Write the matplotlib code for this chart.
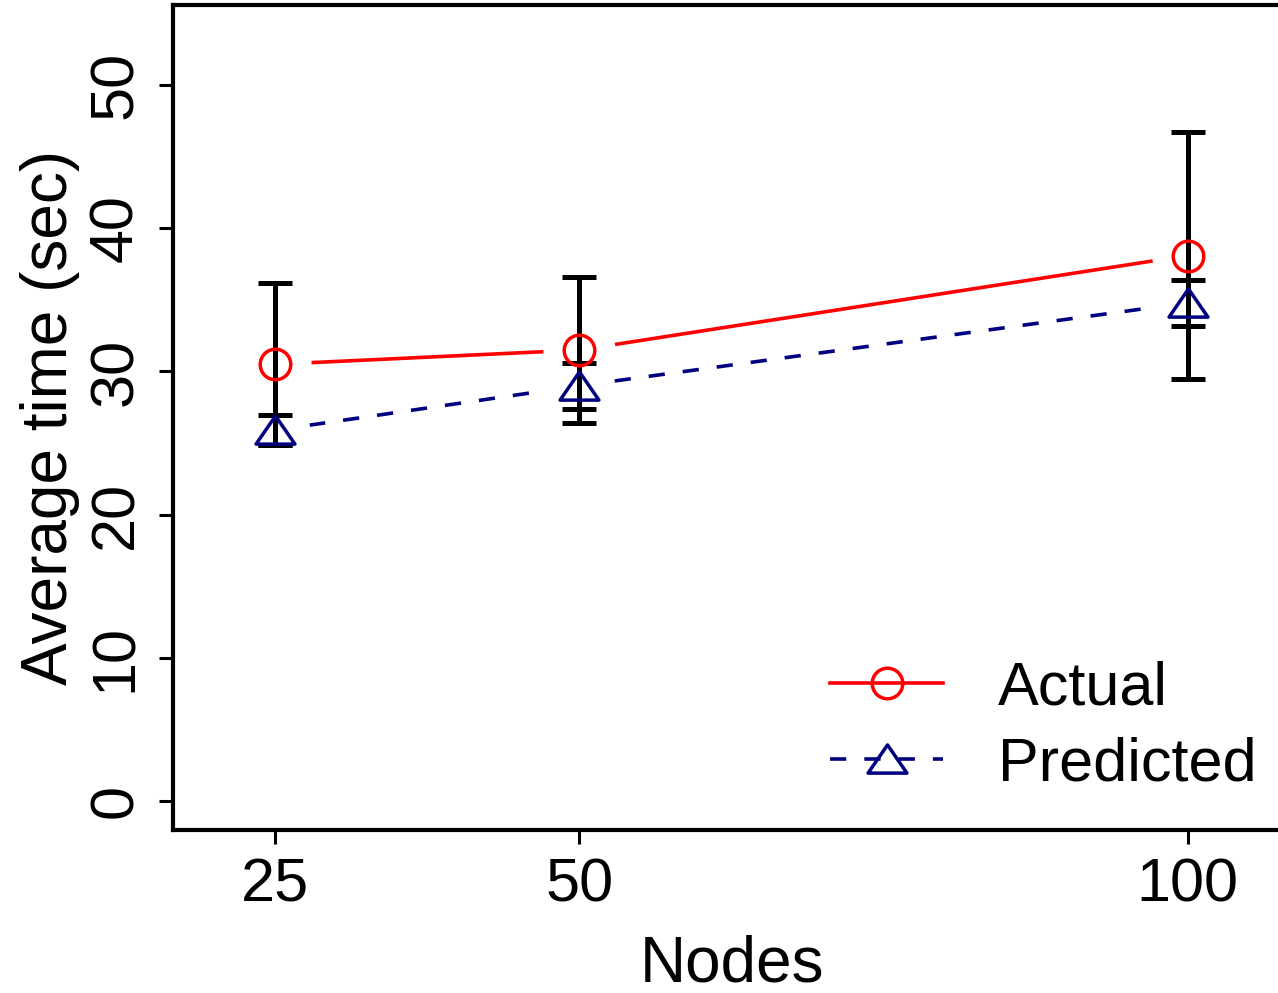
import matplotlib
matplotlib.use('Agg')
import matplotlib.pyplot as plt
from matplotlib.path import Path

plt.rcParams['font.family'] = ['Liberation Sans', 'DejaVu Sans']

nodes = [25, 50, 100]
actual = [30.5, 31.5, 38.1]
actual_err = [5.65, 5.1, 8.6]
predicted = [25.9, 29.0, 34.8]
predicted_err = [1.05, 1.6, 1.6]

fig = plt.figure(figsize=(12.78, 9.93), dpi=100)
ax = fig.add_axes([173/1278, 1-830/993, (1291-173)/1278, (830-5)/993])

# open triangle like R pch=2
tri = Path([(-1, -0.7), (1, -0.7), (0, 0.75), (-1, -0.7)], closed=True)

# lines with gaps around the points (like R type="b")
ax.plot(nodes, actual, color='red', lw=2.6, zorder=1)
ax.plot(nodes, predicted, color='#000080', lw=2.6, ls=(0, (4.5, 5)), zorder=1)
ax.plot(nodes, actual, ls='none', marker='o', ms=52, mfc='white', mec='none', zorder=2)
ax.plot(nodes, predicted, ls='none', marker='o', ms=50, mfc='white', mec='none', zorder=2)

ax.errorbar(nodes, actual, yerr=actual_err, fmt='none', ecolor='black',
            elinewidth=3.6, capsize=12, capthick=3.6, zorder=3)
ax.errorbar(nodes, predicted, yerr=predicted_err, fmt='none', ecolor='black',
            elinewidth=3.6, capsize=12, capthick=3.6, zorder=3)

ax.plot(nodes, actual, ls='none', marker='o', ms=22, mfc='none', mec='red', mew=2.5, zorder=4)
ax.plot(nodes, predicted, ls='none', marker=tri, ms=28, mfc='none', mec='#000080', mew=2.5, zorder=4)

# legend proxies
h1, = ax.plot([], [], color='red', lw=2.6, marker='o', ms=22, mfc='none', mec='red', mew=2.5)
h2, = ax.plot([], [], color='#000080', lw=2.6, ls=(0, (4.5, 5)), marker=tri, ms=28,
              mfc='none', mec='#000080', mew=2.5)
ax.legend([h1, h2], ['Actual', 'Predicted'], loc='lower left', bbox_to_anchor=(0.566, 0.015),
          frameon=False, fontsize=44, handlelength=1.85, handletextpad=0.9, labelspacing=0.3,
          borderaxespad=0)

ax.set_xlim(16.6, 108.5)
ax.set_ylim(-2.03, 55.6)
ax.set_xticks(nodes)
ax.set_yticks([0, 10, 20, 30, 40, 50])
ax.tick_params(axis='both', labelsize=44, width=2.2, length=10, pad=10)
for lab in ax.get_yticklabels():
    lab.set_rotation(90)
    lab.set_va('center')
for s in ax.spines.values():
    s.set_linewidth(3)

ax.set_xlabel('Nodes', fontsize=46, labelpad=14)
ax.set_ylabel('Average time (sec)', fontsize=46, labelpad=6)

fig.savefig('out.png', dpi=100)
